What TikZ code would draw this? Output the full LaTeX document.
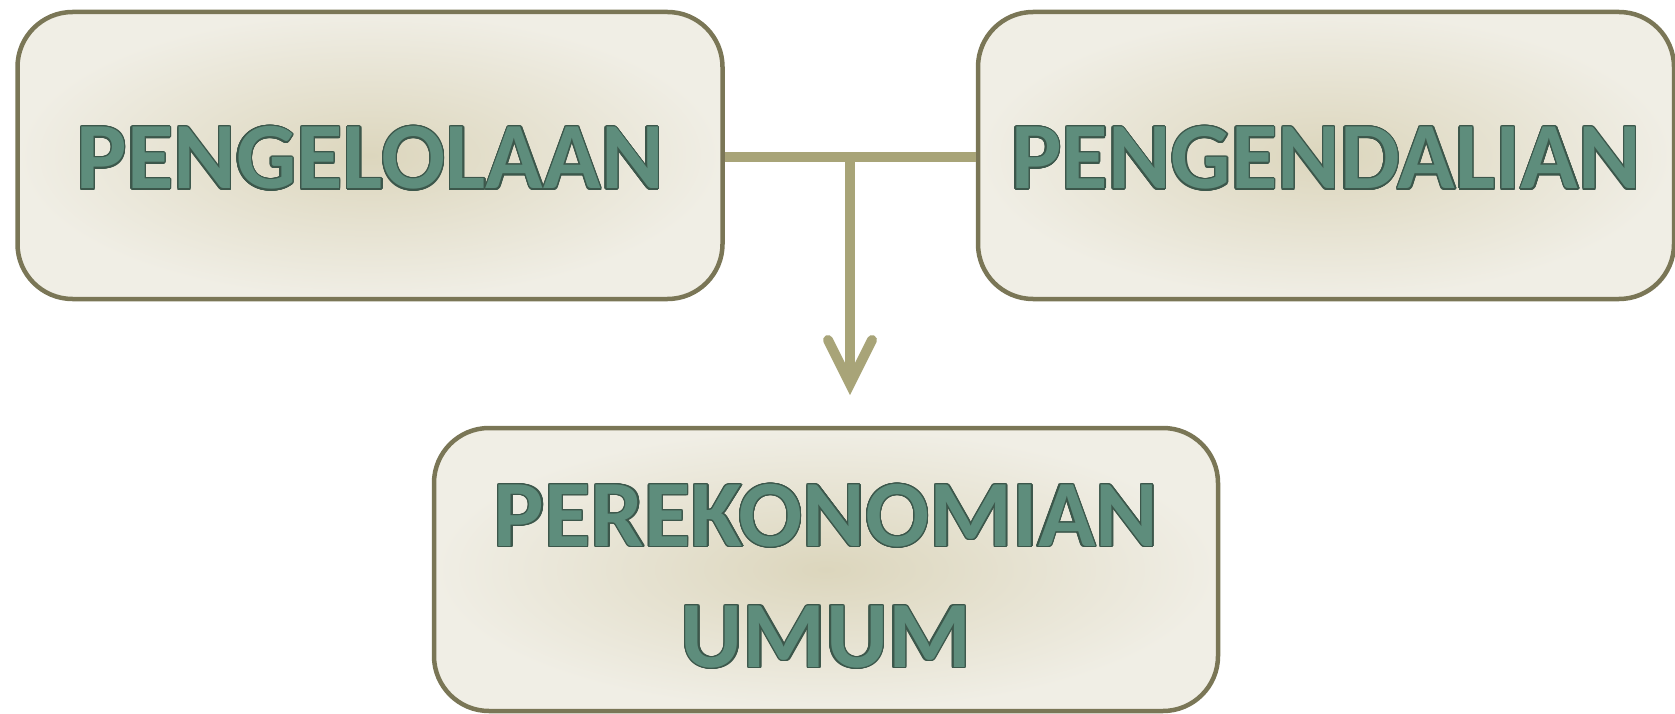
\documentclass[tikz,border=0pt]{standalone}
\usepackage{fontspec}
\setmainfont{Carlito}
\usepackage{contour}
\contourlength{1.4pt}
\contournumber{20}
\definecolor{bordercol}{HTML}{7A7656}
\definecolor{linkcol}{HTML}{A8A478}
\definecolor{innercol}{HTML}{DCD6BD}
\definecolor{outercol}{HTML}{F0EEE5}
\definecolor{textfill}{HTML}{5E8D7C}
\definecolor{textline}{HTML}{3C574B}
\newcommand{\gtxt}[1]{\contour{textline}{\textcolor{textfill}{#1}}}
\tikzset{
  box/.style={draw=bordercol, line width=4.5pt, rounded corners=55pt,
    shading=radial, inner color=innercol, outer color=outercol,
    align=center, inner sep=0pt,
    font=\bfseries\fontsize{95}{115}\selectfont},
  link/.style={draw=linkcol, line width=10pt}
}
\begin{document}
\begin{tikzpicture}[x=1pt,y=-1pt]
\useasboundingbox (0,0) rectangle (1675,714);
\node[box, minimum width=705pt, minimum height=287pt, text height=69pt] (peng) at (370,155.5) {\gtxt{PENGELOLAAN}};
\node[box, minimum width=696pt, minimum height=287pt, text height=69pt] (pend) at (1326,155.5) {\gtxt{PENGENDALIAN}};
\node[box, minimum width=784pt, minimum height=283pt, text height=198pt] (pere) at (826,569.5) {\gtxt{PEREKONOMIAN}\\[6pt]\gtxt{UMUM}};
\coordinate (jn) at (850,157);
\coordinate (tip) at (850,384);
\draw[link] (peng.east |- jn) -- (pend.west |- jn);
\draw[link] (jn) -- (tip);
\draw[link, line cap=round, line join=miter] ([xshift=-22pt,yshift=44pt]tip) -- (tip) -- ([xshift=22pt,yshift=44pt]tip);
\end{tikzpicture}
\end{document}
